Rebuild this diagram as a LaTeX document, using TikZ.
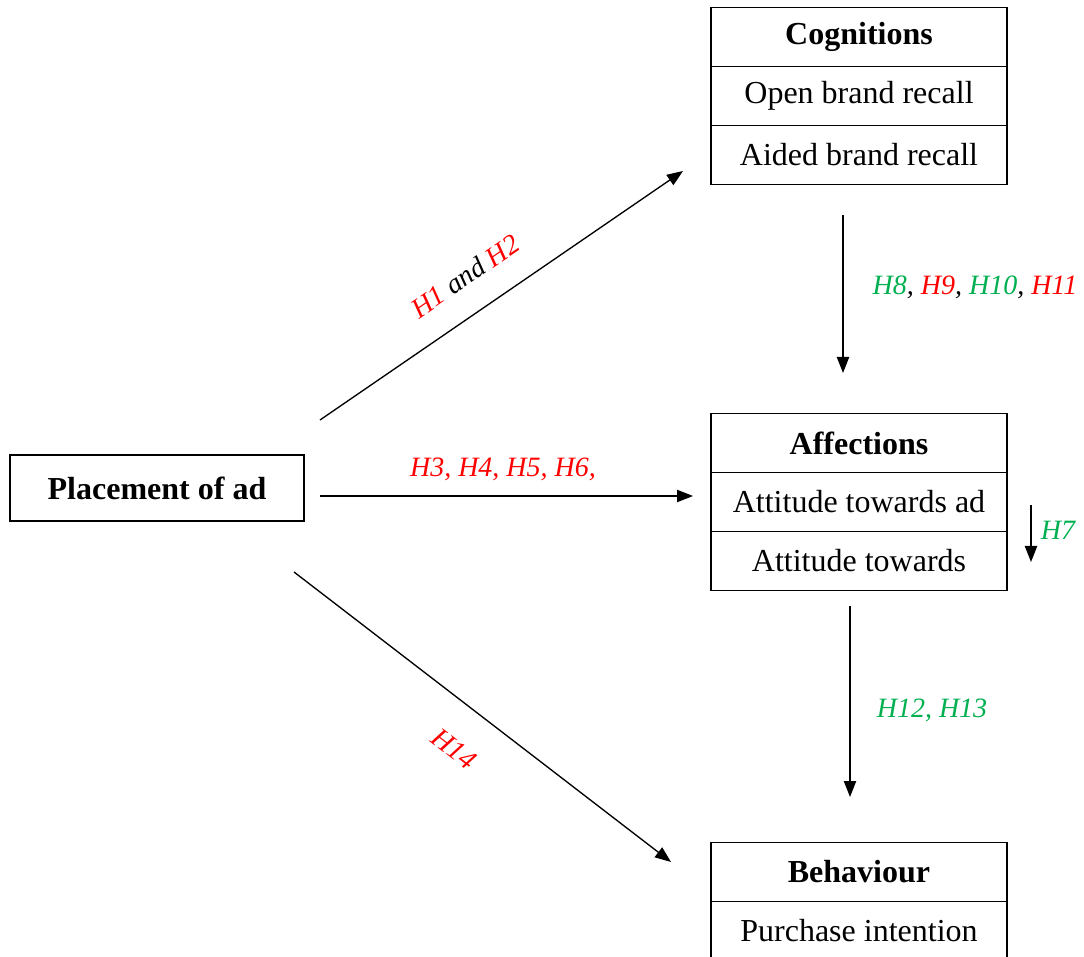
\documentclass[tikz,border=0pt]{standalone}
\usepackage{fontspec}
\setmainfont{Liberation Serif}
\usetikzlibrary{arrows.meta, positioning, calc}

\begin{document}
\begin{tikzpicture}[x=0.375pt,y=-0.375pt,>={Triangle[length=6pt,width=4.6pt]}]

\clip (0,0) rectangle (1084,957);

% Colors
\definecolor{hypred}{RGB}{255,0,0}
\definecolor{hypgreen}{RGB}{0,176,80}

\tikzset{
  row/.style={draw, line width=0.5pt, minimum width=111pt, minimum height=22.1pt, inner sep=0pt, font=\fontsize{12}{14}\selectfont},
  head/.style={row, font=\fontsize{12}{14}\selectfont\bfseries},
  hyp/.style={inner sep=1pt, font=\fontsize{10.5}{12}\selectfont\itshape},
  link/.style={->, line width=0.5pt}
}

% Placement box
\node[head, minimum width=110.25pt, minimum height=24.75pt] (P) at (157,488) {Placement of ad};

% Cognitions box
\node[head] (C0) at (859,37) {Cognitions};
\foreach \k/\txt in {1/Open brand recall,2/Aided brand recall} {
    \node[row] (C\k) at (859,37+59*\k) {\txt};
}

% Affections box
\node[head] (A0) at (859,443) {Affections};
\foreach \k/\txt in {1/Attitude towards ad,2/Attitude towards} {
    \node[row] (A\k) at (859,443+59*\k) {\txt};
}

% Behaviour box
\node[head] (B0) at (859,872) {Behaviour};
\node[row] (B1) at (859,931) {Purchase intention};

% Arrow ends
\coordinate (h1s) at (320,420);
\coordinate (h1e) at (683,171);
\coordinate (h3s) at (320,496);
\coordinate (h3e) at (693,496);
\coordinate (h14s) at (294,572);
\coordinate (h14e) at (671,862);
\coordinate (h8s) at (843,215);
\coordinate (h8e) at (843,373);
\coordinate (h12s) at (850,606);
\coordinate (h12e) at (850,797);
\coordinate (h7s) at (1031,505);
\coordinate (h7e) at (1031,562);

% Connections
\draw[link] (h1s) -- (h1e);
\draw[link] (h3s) -- (h3e);
\draw[link] (h14s) -- (h14e);
\draw[link] (h8s) -- (h8e);
\draw[link] (h12s) -- (h12e);
\draw[link] (h7s) -- (h7e);

% Hypotheses
\node[hyp, rotate=34.4] (L1) at (465,276) {\color{hypred}H1 \color{black}and \color{hypred}H2};
\node[hyp, text=hypred] (L3) at (503,469) {H3, H4, H5, H6,};
\node[hyp, rotate=-37.6, text=hypred] (L14) at (454,749) {H14};
\node[hyp] (L8) at (975,287) {\color{hypgreen}H8\color{black}, \color{hypred}H9\color{black}, \color{hypgreen}H10\color{black}, \color{hypred}H11};
\node[hyp, text=hypgreen] (L12) at (932,710) {H12, H13};
\node[hyp, text=hypgreen] (L7) at (1058,530) {H7};

\end{tikzpicture}
\end{document}
